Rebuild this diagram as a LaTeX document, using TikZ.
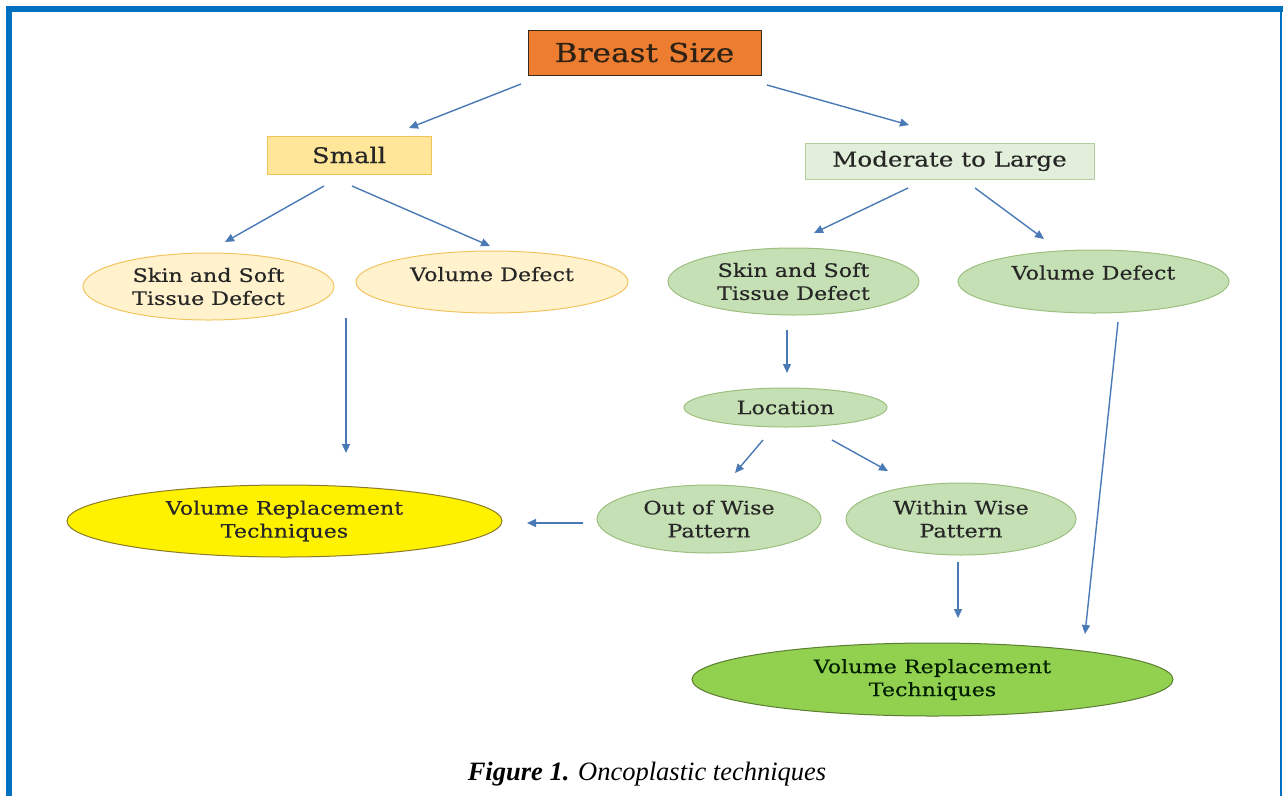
\documentclass[tikz,border=0pt]{standalone}
\usepackage{fontspec}
\setmainfont{DejaVu Serif}[FakeStretch=1.2,FakeBold=0.4]
\newfontfamily\capfont{Liberation Serif}
\usetikzlibrary{shapes.geometric,arrows.meta}
\definecolor{frameblue}{HTML}{0070C0}
\definecolor{arrowc}{HTML}{4A7AB5}
\definecolor{orangef}{HTML}{ED7D31}
\definecolor{orangeb}{HTML}{3A2A1A}
\definecolor{smallf}{HTML}{FFE699}
\definecolor{smallb}{HTML}{F2C25A}
\definecolor{modf}{HTML}{E2EFDA}
\definecolor{modb}{HTML}{B4CCA0}
\definecolor{creamf}{HTML}{FFF2CC}
\definecolor{creamb}{HTML}{F2C45F}
\definecolor{greenf}{HTML}{C5E0B4}
\definecolor{greenb}{HTML}{9DBF80}
\definecolor{yelb}{HTML}{8A7A2A}
\definecolor{bigf}{HTML}{92D050}
\definecolor{bigb}{HTML}{5B7D2F}
\tikzset{
  arr/.style={draw=arrowc, line width=1.4pt, -{Triangle[length=9pt,width=8pt]}},
  boxnode/.style={rectangle, inner sep=0pt, outer sep=0pt, line width=1pt, text=black!85},
  ell/.style={ellipse, inner sep=0pt, outer sep=0pt, line width=1pt, align=center,
     text=black!85, font=\fontsize{18.5}{23}\selectfont},
  creamell/.style={ell, fill=creamf, draw=creamb},
  greenell/.style={ell, fill=greenf, draw=greenb},
}
\begin{document}
\begin{tikzpicture}[x=1pt,y=-1pt]
\useasboundingbox (0,0) rectangle (1283,796);
% frame
\fill[frameblue] (6,6) rectangle (12,796);
\fill[frameblue] (6,6) rectangle (1283,12);
\fill[frameblue] (1280,6) rectangle (1282,796);

% boxes
\node[boxnode, fill=orangef, draw=orangeb, minimum width=233pt, minimum height=45pt,
  text=orangeb!80!black, font=\fontsize{26}{28}\selectfont] (bs) at (644.5,52.5) {Breast Size};
\node[boxnode, fill=smallf, draw=smallb, minimum width=164pt, minimum height=38pt,
  font=\fontsize{21.5}{24}\selectfont] (small) at (349,155) {Small};
\node[boxnode, fill=modf, draw=modb, minimum width=289pt, minimum height=36pt,
  font=\fontsize{20.5}{24}\selectfont] (mod) at (949.5,161) {Moderate to Large};

% left ellipses
\node[creamell, minimum width=251pt, minimum height=67pt] (lskin) at (208.5,286.5) {Skin and Soft\\Tissue Defect};
\node[creamell, minimum width=272pt, minimum height=62pt] (lvol) at (492,282) {\raisebox{1pt}[0pt][0pt]{Volume Defect}};
\node[ell, fill=yellow, draw=yelb, minimum width=435pt, minimum height=72pt] (lrep) at (284.5,521) {Volume Replacement\\Techniques};

% right ellipses
\node[greenell, minimum width=251pt, minimum height=67pt] (rskin) at (793.5,281.5) {Skin and Soft\\Tissue Defect};
\node[greenell, minimum width=271pt, minimum height=63pt] (rvol) at (1093.5,281.5) {\raisebox{2pt}[0pt][0pt]{Volume Defect}};
\node[greenell, minimum width=203pt, minimum height=39pt] (loc) at (785.5,407.5) {Location};
\node[greenell, minimum width=224pt, minimum height=68pt] (out) at (709,519) {Out of Wise\\Pattern};
\node[greenell, minimum width=230pt, minimum height=72pt] (within) at (961,519) {Within Wise\\Pattern};
\node[ell, fill=bigf, draw=bigb, text=black!80!green!60!black, minimum width=481pt, minimum height=73pt] (rrep) at (932.5,679.5) {Volume Replacement\\Techniques};

% arrow end points
\coordinate (a1s) at (521,84);   \coordinate (a1e) at (409,128);
\coordinate (a2s) at (767,85);   \coordinate (a2e) at (909,125);
\coordinate (a3s) at (324,186);  \coordinate (a3e) at (225,242);
\coordinate (a4s) at (352,186);  \coordinate (a4e) at (490,246);
\coordinate (a5s) at (908,188);  \coordinate (a5e) at (814,233);
\coordinate (a6s) at (975,188);  \coordinate (a6e) at (1044,239);
\coordinate (a7s) at (346,318);  \coordinate (a7e) at (346,453);
\coordinate (a8s) at (787,330);  \coordinate (a8e) at (787,373);
\coordinate (a9s) at (763,440);  \coordinate (a9e) at (735,473);
\coordinate (a10s) at (832,440); \coordinate (a10e) at (888,471);
\coordinate (a11s) at (583,523); \coordinate (a11e) at (527,523);
\coordinate (a12s) at (958,562); \coordinate (a12e) at (958,618);
\coordinate (a13s) at (1118,322);\coordinate (a13e) at (1085,634);

\draw[arr] (a1s) -- (a1e);
\draw[arr] (a2s) -- (a2e);
\draw[arr] (a3s) -- (a3e);
\draw[arr] (a4s) -- (a4e);
\draw[arr] (a5s) -- (a5e);
\draw[arr] (a6s) -- (a6e);
\draw[arr] (a7s) -- (a7e);
\draw[arr] (a8s) -- (a8e);
\draw[arr] (a9s) -- (a9e);
\draw[arr] (a10s) -- (a10e);
\draw[arr] (a11s) -- (a11e);
\draw[arr] (a12s) -- (a12e);
\draw[arr] (a13s) -- (a13e);

% caption
\node[inner sep=0pt, anchor=base, font=\capfont\fontsize{26.5}{28}\selectfont] (cap) at (647,780)
  {\textbf{\itshape Figure 1.} \itshape Oncoplastic techniques};
\end{tikzpicture}
\end{document}
